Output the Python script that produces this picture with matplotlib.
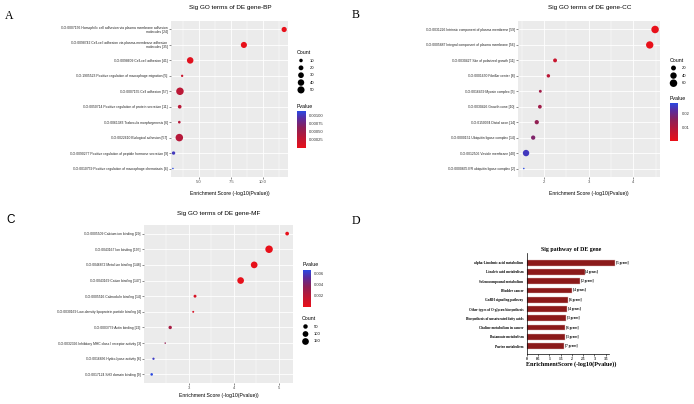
import numpy as np
import matplotlib
matplotlib.use("Agg")
import matplotlib.pyplot as plt
from matplotlib.colors import LinearSegmentedColormap, Normalize
from matplotlib.cm import ScalarMappable
from matplotlib.ticker import FixedLocator

W, H = 694, 404
fig = plt.figure(figsize=(W / 100, H / 100), dpi=100)

SANS = ["Liberation Sans", "DejaVu Sans"]
SERIF = ["Liberation Serif", "DejaVu Serif"]

# ---------------- data ----------------
bp_terms = [
    "GO:0007156 Homophilic cell adhesion via plasma membrane adhesion\nmolecules [24]",
    "GO:0098742 Cell-cell adhesion via plasma-membrane adhesion\nmolecules [35]",
    "GO:0098609 Cell-cell adhesion [41]",
    "GO:1905523 Positive regulation of macrophage migration [5]",
    "GO:0007155 Cell adhesion [57]",
    "GO:0050714 Positive regulation of protein secretion [11]",
    "GO:0061383 Trabecula morphogenesis [6]",
    "GO:0022610 Biological adhesion [57]",
    "GO:0090277 Positive regulation of peptide hormone secretion [9]",
    "GO:0010759 Positive regulation of macrophage chemotaxis [4]",
]
bp_score = [11.65, 8.5, 4.3, 3.67, 3.5, 3.48, 3.45, 3.45, 3.0, 2.95]
bp_count = [24, 35, 41, 5, 57, 11, 6, 57, 9, 4]

cc_terms = [
    "GO:0031226 Intrinsic component of plasma membrane [59]",
    "GO:0005887 Integral component of plasma membrane [56]",
    "GO:0030427 Site of polarized growth [11]",
    "GO:0001650 Fibrillar center [8]",
    "GO:0016459 Myosin complex [5]",
    "GO:0030426 Growth cone [10]",
    "GO:0150034 Distal axon [14]",
    "GO:0000151 Ubiquitin ligase complex [14]",
    "GO:0012506 Vesicle membrane [40]",
    "GO:0000835 ER ubiquitin ligase complex [2]",
]
cc_score = [4.49, 4.37, 2.25, 2.10, 1.92, 1.91, 1.84, 1.76, 1.60, 1.55]
cc_count = [59, 56, 11, 8, 5, 10, 14, 14, 40, 2]

mf_terms = [
    "GO:0005509 Calcium ion binding [29]",
    "GO:0043167 Ion binding [197]",
    "GO:0046872 Metal ion binding [148]",
    "GO:0043169 Cation binding [147]",
    "GO:0005516 Calmodulin binding [14]",
    "GO:0030169 Low-density lipoprotein particle binding [4]",
    "GO:0003779 Actin binding [22]",
    "GO:0032396 Inhibitory MHC class I receptor activity [3]",
    "GO:0016836 Hydro-lyase activity [6]",
    "GO:0017124 SH3 domain binding [9]",
]
mf_score = [5.18, 4.78, 4.45, 4.15, 3.14, 3.10, 2.59, 2.48, 2.22, 2.18]
mf_count = [29, 197, 148, 147, 14, 4, 22, 3, 6, 9]

kegg_terms = [
    "alpha-Linolenic acid metabolism",
    "Linoleic acid metabolism",
    "Selenocompound metabolism",
    "Bladder cancer",
    "GnRH signaling pathway",
    "Other types of O-glycan biosynthesis",
    "Biosynthesis of unsaturated fatty acids",
    "Choline metabolism in cancer",
    "Butanoate metabolism",
    "Purine metabolism",
]
kegg_score = [3.92, 2.56, 2.36, 1.99, 1.82, 1.78, 1.75, 1.70, 1.70, 1.64]
kegg_genes = [5, 4, 2, 4, 6, 4, 3, 6, 3, 7]

# ---------------- helpers ----------------
cmap = LinearSegmentedColormap.from_list(
    "pv", [(0.0, "#E8101A"), (0.3, "#B81838"), (0.55, "#8C2058"),
           (0.8, "#5A2C9E"), (1.0, "#2A48E2")])


def px_axes(x0, y0, x1, y1, **kw):
    return fig.add_axes([x0 / W, 1 - y1 / H, (x1 - x0) / W, (y1 - y0) / H], **kw)


ov = fig.add_axes([0, 0, 1, 1])
ov.set_xlim(0, W)
ov.set_ylim(H, 0)
ov.axis("off")
ov.patch.set_alpha(0)


def size_fn(counts):
    cmin, cmax = min(counts), max(counts)

    def f(c):
        c = np.asarray(c, dtype=float)
        t = np.clip((c - cmin) / (cmax - cmin), 0, 1)
        d = 1.1 + (5.4 - 1.1) * np.sqrt(t)
        return d ** 2

    return f


def dot_panel(box, terms, score, count, xlim, majors, minors, majlabels, title, title_xy,
              xlabel_y, count_leg, pv_leg, pv_ticks, pv_fmt):
    x0, y0, x1, y1 = box
    ax = px_axes(x0, y0, x1, y1)
    ax.set_facecolor("#EBEBEB")
    for s in ax.spines.values():
        s.set_visible(False)
    n = len(terms)
    ypos = np.arange(n)[::-1] + 1
    pvals = 10 ** (-np.asarray(score))
    norm = Normalize(vmin=pvals.min(), vmax=pvals.max())
    sf = size_fn(count)
    ax.scatter(score, ypos, s=sf(count), c=pvals, cmap=cmap, norm=norm,
               edgecolors="none", zorder=3)
    ax.set_xlim(*xlim)
    ax.set_ylim(0.45, n + 0.55)
    ax.set_yticks(ypos)
    ax.set_yticklabels(terms, fontsize=2.4, family=SANS, color="#222222",
                       linespacing=0.9)
    ax.xaxis.set_major_locator(FixedLocator(majors))
    ax.xaxis.set_minor_locator(FixedLocator(minors))
    ax.set_xticklabels(majlabels, fontsize=3, family=SANS, color="#4D4D4D")
    ax.grid(True, which="major", color="white", lw=0.6)
    ax.grid(True, which="minor", axis="x", color="white", lw=0.3)
    ax.set_axisbelow(True)
    ax.tick_params(which="major", length=1.5, width=0.4, color="#333333", pad=1)
    ax.tick_params(which="minor", length=0)
    tx, ty = title_xy
    ov.text(tx, ty, title, fontsize=4.6, family=SANS, ha="center", va="center")
    ov.text((x0 + x1) / 2, xlabel_y, "Enrichment Score (-log10(Pvalue))", fontsize=3.7,
            family=SANS, ha="center", va="center")
    # count legend
    lx, ly, vals, dy = count_leg
    ov.text(lx, ly, "Count", fontsize=3.8, family=SANS, ha="left", va="center")
    for i, v in enumerate(vals):
        yy = ly + 8 + i * dy
        ov.scatter([lx + 4], [yy], s=sf(v), color="black", edgecolors="none")
        ov.text(lx + 12.5, yy, str(v), fontsize=3, family=SANS, ha="left", va="center")
    # pvalue colorbar
    cx0, cy0, cx1, cy1 = pv_leg
    ov.text(cx0, cy0 - 5, "Pvalue", fontsize=3.8, family=SANS, ha="left", va="center")
    cax = px_axes(cx0, cy0, cx1, cy1)
    cb = fig.colorbar(ScalarMappable(norm=norm, cmap=cmap), cax=cax)
    cb.outline.set_visible(False)
    cb.set_ticks(pv_ticks)
    cb.set_ticklabels([pv_fmt % t for t in pv_ticks])
    cax.tick_params(labelsize=3, length=1.2, width=0.3, color="white", pad=1.5,
                    labelcolor="#333333")
    for lab in cax.get_yticklabels():
        lab.set_family(SANS)
    return ax


# Panel A
dot_panel((171, 21, 288, 177), bp_terms, bp_score, bp_count, (2.8, 11.95),
          [5.0, 7.5, 10.0], [3.75, 6.25, 8.75, 11.25], ["5.0", "7.5", "10.0"],
          "Sig GO terms of DE gene-BP", (230, 7), 193,
          (297, 52.5, [10, 20, 30, 40, 50], 7.35),
          (297, 111, 305.5, 148), [0.00025, 0.0005, 0.00075, 0.001], "%.5f")

# Panel B
dot_panel((518, 21, 660, 177), cc_terms, cc_score, cc_count, (1.42, 4.6),
          [2, 3, 4], [1.5, 2.5, 3.5, 4.5], ["2", "3", "4"],
          "Sig GO terms of DE gene-CC", (590, 7), 193,
          (669.5, 60, [20, 40, 60], 7.6),
          (669.5, 103, 678, 140.5), [0.01, 0.02], "%.2f")

# Panel C
dot_panel((144, 225, 293, 383), mf_terms, mf_score, mf_count, (2.01, 5.31),
          [3, 4, 5], [2.5, 3.5, 4.5], ["3", "4", "5"],
          "Sig GO terms of DE gene-MF", (219, 213.5), 396,
          (301.5, 318.5, [50, 100, 150], 7.5),
          (302.5, 270, 310.5, 306.5), [0.002, 0.004, 0.006], "%.3f")

# Panel D (bar chart)
axd = px_axes(527, 253, 609, 354)
yd = np.arange(len(kegg_terms))[::-1]
bars = axd.barh(yd, kegg_score, height=0.62, color="#8B1A1A", edgecolor="#D9B8B8",
                linewidth=0.3, zorder=2)
for b in bars:
    b.set_clip_on(False)
axd.set_ylim(-0.86, len(kegg_terms) - 1 + 1.05)
axd.set_xlim(0, 3.65)
axd.set_yticks(yd)
axd.set_yticklabels(kegg_terms, fontsize=2.5, family=SERIF, fontweight="bold")
axd.set_xticks([0, 0.5, 1, 1.5, 2, 2.5, 3, 3.5])
axd.set_xticklabels(["0", "0.5", "1", "1.5", "2", "2.5", "3", "3.5"], fontsize=2.6,
                    family=SERIF, fontweight="bold")
axd.tick_params(axis="y", length=0, pad=2.5)
axd.tick_params(axis="x", length=1.2, width=0.4, pad=1)
axd.spines["top"].set_visible(False)
axd.spines["right"].set_visible(False)
axd.spines["left"].set_linewidth(0.5)
axd.spines["bottom"].set_linewidth(0.5)
for yy, v, g in zip(yd, kegg_score, kegg_genes):
    axd.text(v + 0.04, yy, "[%d genes]" % g, fontsize=2.3, family=SERIF,
             fontweight="bold", va="center", ha="left", clip_on=False)
ov.text(571, 249, "Sig pathway of DE gene", fontsize=4.2, family=SERIF,
        fontweight="bold", ha="center", va="center")
ov.text(571, 364.5, "EnrichmentScore (-log10(Pvalue))", fontsize=4.4, family=SERIF,
        fontweight="bold", ha="center", va="center")

# Panel letters
ov.text(9, 16, "A", fontsize=8.5, family=SERIF, ha="center", va="center")
ov.text(356, 15.5, "B", fontsize=8.5, family=SERIF, ha="center", va="center")
ov.text(11, 220, "C", fontsize=8.5, family=SANS, ha="center", va="center")
ov.text(356, 221, "D", fontsize=8.5, family=SERIF, ha="center", va="center")

fig.savefig("out.png", dpi=100)
